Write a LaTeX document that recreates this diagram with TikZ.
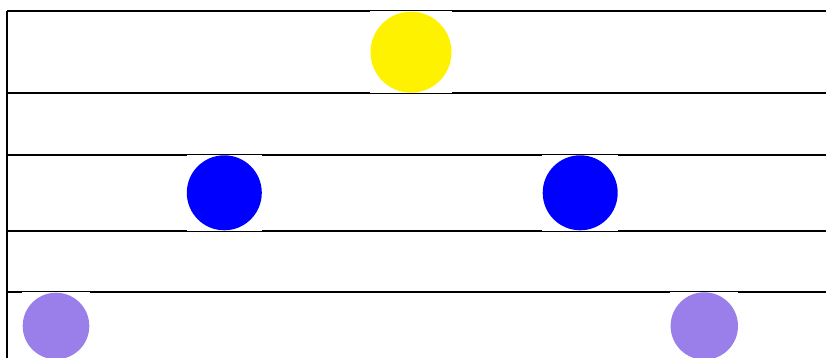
\documentclass[tikz,border=0pt]{standalone}
\definecolor{ballpurple}{RGB}{154,127,234}
\begin{document}
\begin{tikzpicture}[x=1pt,y=-1pt,
  rule/.style={line width=2pt,black},
  sq/.style={rectangle,fill=white,inner sep=0pt,outer sep=0pt,minimum size=#1},
  ball/.style={circle,inner sep=0pt,outer sep=0pt,minimum size=#1}]
\useasboundingbox (0,0) rectangle (826,358);
\coordinate (l1) at (7,11);   \coordinate (r1) at (826,11);
\coordinate (l2) at (7,93.5); \coordinate (r2) at (826,93.5);
\coordinate (l3) at (7,155);  \coordinate (r3) at (826,155);
\coordinate (l4) at (7,230.5);\coordinate (r4) at (826,230.5);
\coordinate (l5) at (7,292);  \coordinate (r5) at (826,292);
\coordinate (lb) at (7,358);
\draw[rule] (l1) -- (r1);
\draw[rule] (l2) -- (r2);
\draw[rule] (l3) -- (r3);
\draw[rule] (l4) -- (r4);
\draw[rule] (l5) -- (r5);
\draw[rule] (l1) -- (lb);
% white squares behind balls
\node[sq=82.5pt] (ysq) at (411,52.2) {};
\node[sq=75.5pt] (b1sq) at (224.3,192.8) {};
\node[sq=75.5pt] (b2sq) at (580.2,192.8) {};
\node[sq=68pt] (p1sq) at (56,326) {};
\node[sq=68pt] (p2sq) at (704.3,326) {};
% balls
\node[ball=81pt,fill=yellow] (y) at (411,52.2) {};
\node[ball=75pt,fill=blue] (b1) at (224.3,192.8) {};
\node[ball=75pt,fill=blue] (b2) at (580.2,192.8) {};
\node[ball=66.6pt,fill=ballpurple] (p1) at (56,326) {};
\node[ball=67.4pt,fill=ballpurple] (p2) at (704.3,326) {};
\end{tikzpicture}
\end{document}
